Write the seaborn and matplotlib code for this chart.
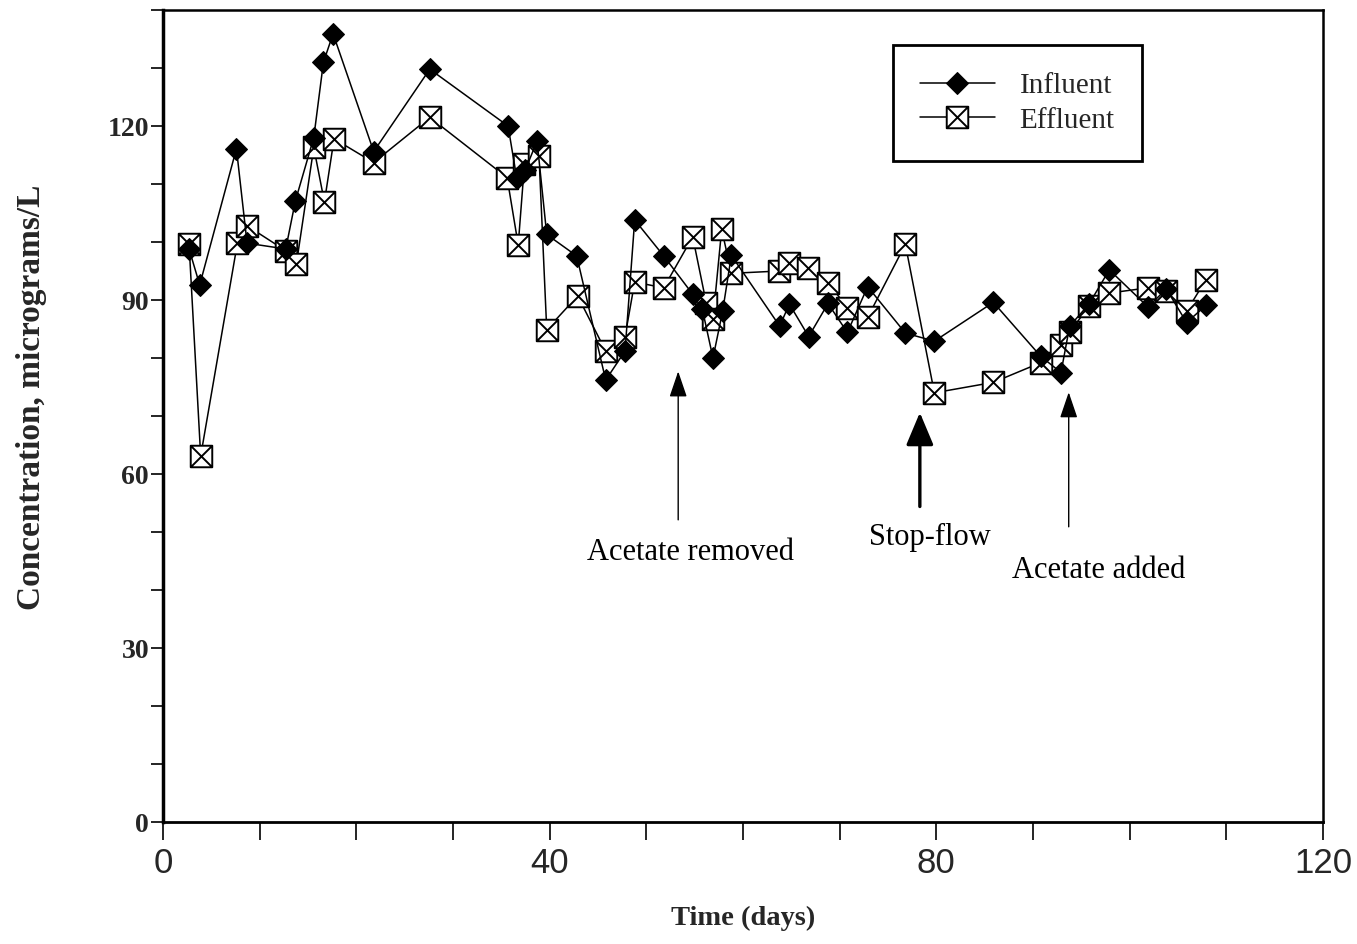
import numpy as np
import pandas as pd
import matplotlib
matplotlib.use("Agg")
import matplotlib.pyplot as plt
from matplotlib.path import Path
from matplotlib.ticker import MultipleLocator
import seaborn as sns

# Sampling days and concentrations (micrograms/L)
influent_days = [2.7, 3.8, 7.6, 8.7, 12.7, 13.7, 15.6, 16.6, 17.6, 21.8,
                 27.6, 35.7, 36.6, 37.5, 38.7, 39.7, 42.8, 45.8, 47.8, 48.8,
                 51.8, 54.8, 55.8, 56.9, 57.9, 58.8, 63.8, 64.8, 66.8, 68.8,
                 70.8, 72.9, 76.8, 79.8, 85.9, 90.8, 92.9, 93.8, 95.8, 97.9,
                 101.9, 103.8, 105.9, 107.9]
influent = [98.8, 92.6, 116.1, 99.8, 98.8, 107.1, 118.0, 131.0, 135.9, 115.6,
            129.8, 120.0, 111.0, 112.5, 117.4, 101.3, 97.6, 76.2, 81.2, 103.8,
            97.6, 91.0, 88.4, 80.0, 88.1, 97.7, 85.5, 89.3, 83.7, 89.4,
            84.4, 92.3, 84.3, 82.9, 89.6, 80.3, 77.5, 85.5, 89.3, 95.2,
            88.8, 91.9, 86.1, 89.1]

effluent_days = [2.7, 3.9, 7.7, 8.7, 12.7, 13.8, 15.6, 16.7, 17.7, 21.8,
                 27.6, 35.6, 36.75, 37.4, 38.9, 39.7, 42.9, 45.8, 47.8, 48.8,
                 51.8, 54.8, 56.2, 56.9, 57.8, 58.8, 63.75, 64.8, 66.75, 68.8,
                 70.8, 72.9, 76.8, 79.8, 85.9, 90.8, 92.9, 93.8, 95.8, 97.9,
                 101.9, 103.8, 105.9, 107.9]
effluent = [99.6, 63.1, 99.8, 102.8, 98.5, 96.2, 116.3, 106.9, 117.8, 113.7,
            121.5, 111.1, 99.5, 113.5, 114.9, 84.9, 90.7, 81.2, 83.7, 93.1,
            92.1, 100.9, 89.5, 86.7, 102.2, 94.6, 95.0, 96.4, 95.6, 93.0,
            88.7, 87.0, 99.6, 74.0, 75.8, 79.2, 82.2, 84.5, 88.9, 91.2,
            92.1, 91.6, 88.1, 93.5]

# Process events marked on the time axis: (label, day, arrow tip, arrow tail)
events = ["Acetate removed", "Stop-flow", "Acetate added"]
event_days = [53.3, 78.3, 93.7]
event_tips = [77.7, 70.6, 74.1]
event_tails = [52.1, 54.4, 50.9]
event_text_pos = [(54.6, 46.4), (79.3, 49.0), (96.8, 43.3)]

x_ticks = [0, 40, 80, 120]
y_ticks = [0, 30, 60, 90, 120]

sns.set_style("ticks")
plt.rcParams["font.family"] = ["Liberation Serif", "DejaVu Serif"]

df_in = pd.DataFrame({"day": influent_days, "conc": influent})
df_ef = pd.DataFrame({"day": effluent_days, "conc": effluent})

# open square with a cross inside
box_x = Path(
    [(-1, -1), (1, -1), (1, 1), (-1, 1), (-1, -1),
     (-1, -1), (1, 1), (-1, 1), (1, -1)],
    [Path.MOVETO, Path.LINETO, Path.LINETO, Path.LINETO, Path.CLOSEPOLY,
     Path.MOVETO, Path.LINETO, Path.MOVETO, Path.LINETO],
)

fig = plt.figure(figsize=(13.57, 9.44), dpi=100)
ax = fig.add_axes([0.1201, 0.1292, 0.8548, 0.8602])

sns.lineplot(data=df_ef, x="day", y="conc", ax=ax, estimator=None, sort=False,
             color="black", lw=1.1, marker=box_x, markersize=15.5,
             markerfacecolor="white", markeredgecolor="black",
             markeredgewidth=1.4, label="Effluent", zorder=3)
sns.lineplot(data=df_in, x="day", y="conc", ax=ax, estimator=None, sort=False,
             color="black", lw=1.1, marker="D", markersize=11.5,
             markerfacecolor="black", markeredgecolor="black",
             label="Influent", zorder=4)

ax.set_xlim(0, 120)
ax.set_ylim(0, 140)
ax.set_xticks(x_ticks)
ax.set_yticks(y_ticks)
ax.xaxis.set_minor_locator(MultipleLocator(10))
ax.yaxis.set_minor_locator(MultipleLocator(10))
ax.tick_params(axis="x", which="both", direction="out", length=13, width=1.2,
               pad=5, color="black")
ax.tick_params(axis="y", which="both", direction="out", length=9, width=1.2,
               pad=1, color="black")
for lbl in ax.get_xticklabels():
    lbl.set_family(["Liberation Sans Narrow", "Liberation Sans", "DejaVu Sans"])
    lbl.set_fontsize(25)
for lbl in ax.get_yticklabels():
    lbl.set_fontsize(20)
    lbl.set_fontweight("bold")

for side in ["top", "right", "bottom", "left"]:
    ax.spines[side].set_visible(True)
    ax.spines[side].set_color("black")
ax.spines["left"].set_linewidth(2.5)
ax.spines["bottom"].set_linewidth(2.0)
ax.spines["top"].set_linewidth(1.8)
ax.spines["right"].set_linewidth(1.8)

ax.set_xlabel("Time (days)", fontsize=20.5, fontweight="bold")
ax.set_ylabel("Concentration, micrograms/L", fontsize=24, fontweight="bold")
ax.xaxis.set_label_coords(0.5, -0.103)
ax.yaxis.set_label_coords(-0.1, 0.523)

# event arrows and labels
for i, (name, d, tip, tail) in enumerate(zip(events, event_days, event_tips, event_tails)):
    thick = name == "Stop-flow"
    ax.annotate("", xy=(d, tip), xytext=(d, tail),
                arrowprops=dict(arrowstyle="-|>,head_length=1.0,head_width=%s" % (0.42 if thick else 0.34),
                                color="black", lw=2.4 if thick else 1.0,
                                mutation_scale=20 if thick else 16,
                                shrinkA=0, shrinkB=0))
    tx, ty = event_text_pos[i]
    ax.text(tx, ty, name, fontsize=22, ha="center", va="center", color="black")

handles, labels = ax.get_legend_handles_labels()
order = [labels.index("Influent"), labels.index("Effluent")]
leg = ax.legend([handles[k] for k in order], [labels[k] for k in order],
                loc="upper left", bbox_to_anchor=(0.629, 0.957), fontsize=21,
                frameon=True, fancybox=False, edgecolor="black", framealpha=1,
                handlelength=2.55, handletextpad=0.85, labelspacing=0.28,
                borderpad=0.95, borderaxespad=0)
leg.get_frame().set_linewidth(2.0)

fig.savefig("out.png", dpi=100, facecolor="white")
